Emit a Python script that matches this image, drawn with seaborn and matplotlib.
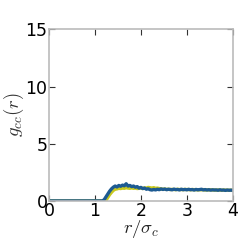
import matplotlib
matplotlib.use('Agg')
import matplotlib.pyplot as plt
import numpy as np
import pandas as pd
import seaborn as sns

# r grid (units of sigma_c), step 0.04
r_values = np.round(np.arange(0, 4.0001, 0.04), 2)

g_blue = [0.0] * 30 + [
    0.10, 0.35, 0.60, 0.85, 1.05, 1.20, 1.30, 1.22, 1.35, 1.28,
    1.38, 1.32, 1.50, 1.30, 1.35, 1.25, 1.30, 1.20, 1.25, 1.12,
    1.18, 1.08, 1.12, 1.02, 1.06, 0.98, 0.95, 1.00, 0.96, 1.02,
    0.98, 1.05, 1.00, 1.04, 0.98, 1.02, 1.00, 0.97, 1.03, 0.99,
    1.00, 0.96, 1.02, 0.98, 1.00, 0.97, 1.01, 0.98, 0.99, 0.95,
    1.00, 0.97, 0.99, 1.02, 0.96, 0.99, 0.95, 0.98, 0.94, 0.97,
    0.95, 0.96, 0.93, 0.97, 0.94, 0.95, 0.92, 0.95, 0.93, 0.94,
    0.93,
]

g_yellow = [0.0] * 31 + [
    0.05, 0.30, 0.55, 0.75, 0.92, 1.02, 1.05, 1.10, 1.08, 1.12,
    1.10, 1.15, 1.12, 1.10, 1.14, 1.10, 1.12, 1.08, 1.10, 1.12,
    1.08, 1.14, 1.12, 1.18, 1.15, 1.12, 1.16, 1.10, 1.12, 1.08,
    1.05, 1.02, 1.04, 1.00, 1.02, 0.99, 1.01, 1.00, 0.98, 1.02,
    0.99, 1.00, 0.98, 1.01, 0.99, 1.00, 0.97, 1.00, 0.98, 0.99,
    0.96, 0.98, 0.97, 0.99, 0.95, 0.97, 0.96, 0.98, 0.95, 0.96,
    0.94, 0.96, 0.95, 0.93, 0.95, 0.94, 0.94, 0.93, 0.94, 0.92,
]

df = pd.DataFrame({'r': r_values, 'yellow': g_yellow, 'blue': g_blue})

sns.set_style('white')
plt.rcParams['mathtext.fontset'] = 'cm'

fig, ax = plt.subplots(figsize=(2.45, 2.45), dpi=100)
fig.subplots_adjust(left=0.2, right=0.95, bottom=0.18, top=0.88)

sns.lineplot(data=df, x='r', y='yellow', ax=ax, color='#c8c81e', lw=2.4)
sns.lineplot(data=df, x='r', y='blue', ax=ax, color='#1d5a92', lw=2.4)

ax.set_xlim(0, 4)
ax.set_ylim(0, 15)
ax.set_xticks([0, 1, 2, 3, 4])
ax.set_yticks([0, 5, 10, 15])
ax.tick_params(direction='in', length=4, width=0.8, color='#333333',
               labelcolor='black', labelsize=12.5, pad=1, top=True, right=True,
               bottom=True, left=True)
for sp in ax.spines.values():
    sp.set_color('#bbbbbb')
    sp.set_linewidth(1.2)
ax.set_xlabel(r'$r/\sigma_c$', fontsize=13.5, color='#222222')
ax.set_ylabel(r'$g_{cc}(r)$', fontsize=13.5, color='#333333')
ax.xaxis.set_label_coords(0.5, -0.1)
ax.yaxis.set_label_coords(-0.125, 0.5)

plt.savefig('out.png', dpi=100)
